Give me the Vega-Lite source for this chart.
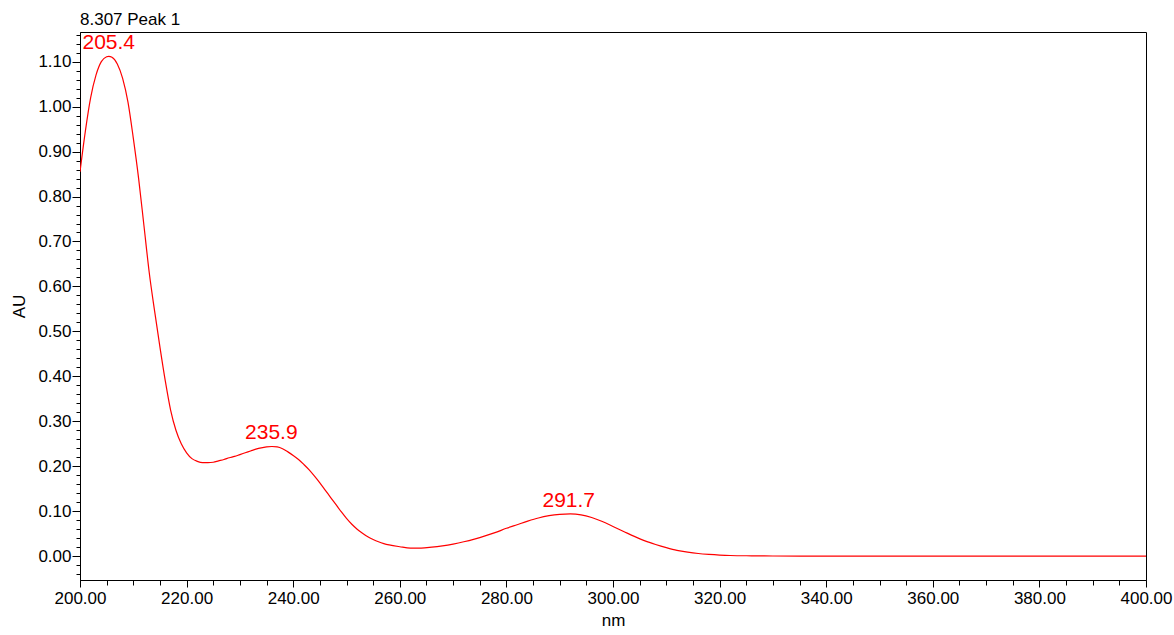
{
  "$schema": "https://vega.github.io/schema/vega-lite/v6.json",
  "width": 1066,
  "height": 548,
  "autosize": {"type": "none"},
  "padding": {"left": 80, "top": 32, "right": 28, "bottom": 55},
  "background": "white",
  "title": {"text": "8.307 Peak 1", "anchor": "start", "frame": "group", "fontSize": 17, "fontWeight": "normal", "font": "Liberation Sans", "color": "black", "offset": -3},
  "config": {
    "view": {"stroke": "black", "strokeWidth": 1},
    "axis": {"labelFont": "Liberation Sans", "titleFont": "Liberation Sans", "labelFontSize": 17, "titleFontSize": 17, "titleFontWeight": "normal", "labelColor": "black", "titleColor": "black", "tickColor": "black", "domainColor": "black", "grid": false, "labelOverlap": false, "labelFlush": false, "labelBound": false, "tickCount": 200}
  },
  "layer": [
    {
      "data": {"values": [
        {"nm": 200, "au": 0.855}, {"nm": 201, "au": 0.945}, {"nm": 202, "au": 1.02}, {"nm": 203, "au": 1.07},
        {"nm": 204, "au": 1.1}, {"nm": 205, "au": 1.111}, {"nm": 205.4, "au": 1.112}, {"nm": 206, "au": 1.11},
        {"nm": 207, "au": 1.095}, {"nm": 208, "au": 1.063}, {"nm": 209, "au": 1.01}, {"nm": 210, "au": 0.93},
        {"nm": 211, "au": 0.84}, {"nm": 212, "au": 0.735}, {"nm": 213, "au": 0.63}, {"nm": 214, "au": 0.545},
        {"nm": 215, "au": 0.465}, {"nm": 216, "au": 0.39}, {"nm": 217, "au": 0.325}, {"nm": 218, "au": 0.28},
        {"nm": 219, "au": 0.25}, {"nm": 220, "au": 0.23}, {"nm": 221, "au": 0.217}, {"nm": 222, "au": 0.211},
        {"nm": 223, "au": 0.208}, {"nm": 224, "au": 0.208}, {"nm": 225, "au": 0.209}, {"nm": 226, "au": 0.212},
        {"nm": 227, "au": 0.215}, {"nm": 228, "au": 0.219}, {"nm": 229, "au": 0.222}, {"nm": 230, "au": 0.226},
        {"nm": 231, "au": 0.23}, {"nm": 232, "au": 0.234}, {"nm": 233, "au": 0.238}, {"nm": 234, "au": 0.241},
        {"nm": 235, "au": 0.243}, {"nm": 236, "au": 0.244}, {"nm": 237, "au": 0.243}, {"nm": 238, "au": 0.239},
        {"nm": 239, "au": 0.232}, {"nm": 240, "au": 0.224}, {"nm": 241, "au": 0.215}, {"nm": 242, "au": 0.204},
        {"nm": 243, "au": 0.192}, {"nm": 244, "au": 0.178}, {"nm": 245, "au": 0.163}, {"nm": 246, "au": 0.147},
        {"nm": 247, "au": 0.131}, {"nm": 248, "au": 0.115}, {"nm": 249, "au": 0.099}, {"nm": 250, "au": 0.084},
        {"nm": 251, "au": 0.071}, {"nm": 252, "au": 0.06}, {"nm": 253, "au": 0.051}, {"nm": 254, "au": 0.043},
        {"nm": 255, "au": 0.037}, {"nm": 256, "au": 0.032}, {"nm": 257, "au": 0.028}, {"nm": 258, "au": 0.025},
        {"nm": 260, "au": 0.021}, {"nm": 262, "au": 0.018}, {"nm": 264, "au": 0.018}, {"nm": 266, "au": 0.02},
        {"nm": 268, "au": 0.023}, {"nm": 270, "au": 0.027}, {"nm": 272, "au": 0.032}, {"nm": 274, "au": 0.038},
        {"nm": 276, "au": 0.045}, {"nm": 278, "au": 0.053}, {"nm": 280, "au": 0.062}, {"nm": 282, "au": 0.07},
        {"nm": 284, "au": 0.078}, {"nm": 286, "au": 0.085}, {"nm": 288, "au": 0.09}, {"nm": 290, "au": 0.093},
        {"nm": 292, "au": 0.094}, {"nm": 294, "au": 0.092}, {"nm": 296, "au": 0.086}, {"nm": 298, "au": 0.077},
        {"nm": 300, "au": 0.066}, {"nm": 302, "au": 0.055}, {"nm": 304, "au": 0.044}, {"nm": 306, "au": 0.034},
        {"nm": 308, "au": 0.026}, {"nm": 310, "au": 0.019}, {"nm": 312, "au": 0.013}, {"nm": 314, "au": 0.009},
        {"nm": 316, "au": 0.006}, {"nm": 318, "au": 0.004}, {"nm": 320, "au": 0.0025}, {"nm": 322, "au": 0.0015},
        {"nm": 326, "au": 0.0008}, {"nm": 330, "au": 0.0004}, {"nm": 340, "au": 0.0001}, {"nm": 350, "au": 0},
        {"nm": 400, "au": 0}
      ]},
      "mark": {"type": "line", "color": "#ff0000", "strokeWidth": 1.2, "interpolate": "monotone", "clip": true},
      "encoding": {
        "x": {"field": "nm", "type": "quantitative", "title": "nm",
          "scale": {"domain": [200, 400], "nice": false, "zero": false},
          "axis": {
            "values": [200,205,210,215,220,225,230,235,240,245,250,255,260,265,270,275,280,285,290,295,300,305,310,315,320,325,330,335,340,345,350,355,360,365,370,375,380,385,390,395,400],
            "tickCount": 200,
            "labelExpr": "datum.value % 20 == 0 ? format(datum.value, '.2f') : ''",
            "tickSize": {"condition": {"test": "datum.value % 20 == 0", "value": 7}, "value": 5},
            "labelPadding": 3, "titlePadding": 6
          }},
        "y": {"field": "au", "type": "quantitative", "title": "AU",
          "scale": {"domain": [-0.053, 1.166], "nice": false, "zero": false},
          "axis": {
            "values": [-0.04,-0.02,0,0.02,0.04,0.06,0.08,0.1,0.12,0.14,0.16,0.18,0.2,0.22,0.24,0.26,0.28,0.3,0.32,0.34,0.36,0.38,0.4,0.42,0.44,0.46,0.48,0.5,0.52,0.54,0.56,0.58,0.6,0.62,0.64,0.66,0.68,0.7,0.72,0.74,0.76,0.78,0.8,0.82,0.84,0.86,0.88,0.9,0.92,0.94,0.96,0.98,1,1.02,1.04,1.06,1.08,1.1,1.12,1.14,1.16],
            "tickCount": 200,
            "labelExpr": "abs(datum.value*10 - round(datum.value*10)) < 0.001 ? format(datum.value, '.2f') : ''",
            "tickSize": {"condition": {"test": "abs(datum.value*10 - round(datum.value*10)) < 0.001", "value": 8}, "value": 4},
            "labelPadding": 1, "titlePadding": 9
          }}
      }
    },
    {
      "data": {"values": [
        {"nm": 205.4, "au": 1.112, "label": "205.4"},
        {"nm": 235.9, "au": 0.244, "label": "235.9"},
        {"nm": 291.7, "au": 0.094, "label": "291.7"}
      ]},
      "mark": {"type": "text", "color": "#ff0000", "fontSize": 21, "font": "Liberation Sans", "baseline": "alphabetic", "align": "center", "dy": -7},
      "encoding": {
        "x": {"field": "nm", "type": "quantitative"},
        "y": {"field": "au", "type": "quantitative"},
        "text": {"field": "label"}
      }
    }
  ]
}
